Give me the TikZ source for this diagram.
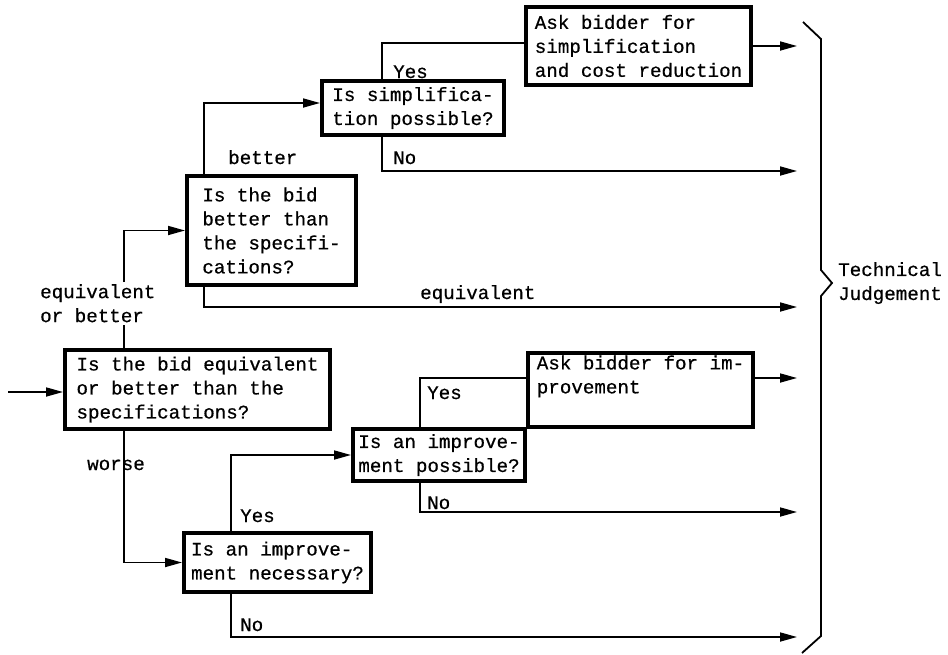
\documentclass[tikz,border=0pt]{standalone}
\usepackage{fontspec}
\newfontfamily\diagfont[FakeBold=0.6]{Liberation Mono}
\usetikzlibrary{arrows.meta}

\begin{document}
\begin{tikzpicture}[x=1pt,y=-1pt,
  txt/.style={font=\diagfont\fontsize{19.2pt}{24pt}\selectfont, inner sep=0pt},
  box/.style={txt, draw, line width=4pt, align=left},
  lab/.style={txt, anchor=base west},
  ln/.style={line width=1.7pt},
  arr/.style={ln, -{Triangle[length=17pt,width=9pt]}}]
\useasboundingbox (0,0) rectangle (948,654);

% decision and action boxes
\node[box, minimum width=225, minimum height=78] (ask1) at (638.5,46)
  {Ask bidder for\\simplification\\and cost reduction};
\node[box, minimum width=182, minimum height=54] (q1) at (413,108)
  {Is simplifica-\\tion possible?};
\node[box, minimum width=169, minimum height=109] (q2) at (271.5,230.5)
  {Is the bid\\better than\\the specifi-\\cations?};
\node[box, minimum width=265, minimum height=79] (q3) at (197.5,389.5)
  {Is the bid equivalent\\or better than the\\specifications?};
\node[box, minimum width=225, minimum height=74] (ask2) at (640.5,390)
  {Ask bidder for im-\\provement\\\strut};
\node[box, minimum width=172, minimum height=52] (q5) at (439,455)
  {Is an improve-\\ment possible?};
\node[box, minimum width=187, minimum height=59] (q4) at (277.5,562.5)
  {Is an improve-\\ment necessary?};

% branch labels
\node[txt, align=left, anchor=north west] (eqlab) at (40,284) {equivalent\\or better};
\node[lab] (lbetter) at (228,164) {better};
\node[lab] (lyes1) at (393,78) {Yes};
\node[lab] (lno1) at (393,164) {No};
\node[lab] (lequiv) at (420,299) {equivalent};
\node[lab] (lworse) at (87,470) {worse};
\node[lab] (lyes5) at (427,399) {Yes};
\node[lab] (lno5) at (427,509) {No};
\node[lab] (lyes4) at (240,522) {Yes};
\node[lab] (lno4) at (240,631) {No};
\node[txt, align=left, anchor=west] (tj) at (838,283) {Technical\\Judgement};

% x positions of the vertical branch lines
\coordinate (xa) at (124,0);
\coordinate (xb) at (204,0);
\coordinate (xc) at (382,0);
\coordinate (xd) at (231,0);
\coordinate (xe) at (420,0);
% free ends
\coordinate (in) at (8,392);
\coordinate (t1) at (797,46);
\coordinate (t2) at (797,171);
\coordinate (t3) at (797,307);
\coordinate (t4) at (797,378);
\coordinate (t5) at (797,512);
\coordinate (t6) at (797,637);

% connectors
\draw[arr] (in) -- (in -| q3.west);
\draw[ln] (q3.north -| xa) -- ([yshift=-2pt]eqlab.south -| xa);
\draw[arr] ([yshift=2pt]eqlab.north -| xa) |- (q2.west);
\draw[arr] (q2.north -| xb) |- ([yshift=5pt]q1.west);
\draw[ln] (q1.north -| xc) |- ([yshift=3pt]ask1.west);
\draw[arr] (q1.south -| xc) |- (t2);
\draw[arr] (ask1.east) -- (t1);
\draw[arr] (q2.south -| xb) |- (t3);
\draw[arr] (q3.south -| xa) |- (q4.west);
\draw[arr] (q4.north -| xd) |- (q5.west);
\draw[ln] (q5.north -| xe) |- ([yshift=12pt]ask2.west);
\draw[arr] ([yshift=12pt]ask2.east) -- (t4);
\draw[arr] (q5.south -| xe) |- (t5);
\draw[arr] (q4.south -| xd) |- (t6);

% brace gathering the outcomes
\draw[ln, line width=1.8pt] (803,22) -- (821,39) -- (821,270) -- (832,283)
  -- (821,296) -- (821,636) -- (802,653);
\end{tikzpicture}
\end{document}
